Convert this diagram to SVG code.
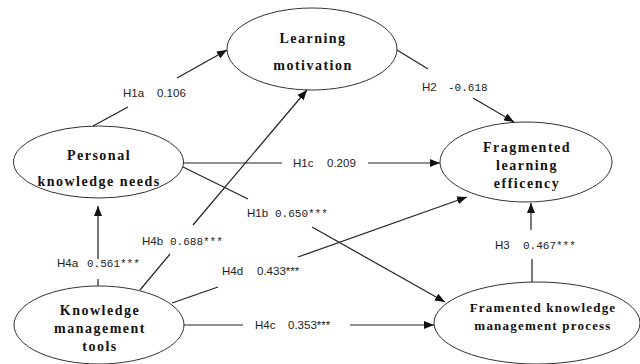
<svg xmlns="http://www.w3.org/2000/svg" width="640" height="364" viewBox="0 0 640 364">
<defs>
<marker id="ah" viewBox="0 0 10 8" refX="10" refY="4" markerWidth="10" markerHeight="8" markerUnits="userSpaceOnUse" orient="auto">
<path d="M0,0 L10,4 L0,8 z" fill="#111"/>
</marker>
</defs>
<style>
.node ellipse{fill:#fff;stroke:#333;stroke-width:1}
.node text{font-family:"Liberation Serif","Times New Roman",serif;font-weight:bold;font-size:14px;letter-spacing:1.5px;fill:#111;text-anchor:middle}
.edges line{stroke:#222;stroke-width:1.2}
.lbl{font-family:"Liberation Sans",Arial,sans-serif;font-size:11.5px;fill:#222}
.mono{font-family:"Liberation Mono","DejaVu Sans Mono",monospace;font-size:11px}
</style>
<rect width="640" height="364" fill="#fff"/>
<g id="n-learning-motivation" class="node">
<ellipse cx="312" cy="49" rx="85" ry="41"/>
<text x="313" y="43">Learning</text>
<text x="313" y="70">motivation</text>
</g>
<g id="n-personal-knowledge-needs" class="node">
<ellipse cx="98.5" cy="162" rx="85" ry="36"/>
<text x="99" y="160">Personal</text>
<text x="99" y="186">knowledge needs</text>
</g>
<g id="n-knowledge-management-tools" class="node">
<ellipse cx="99" cy="325" rx="85" ry="39"/>
<text x="100" y="315">Knowledge</text>
<text x="100" y="333">management</text>
<text x="100" y="351">tools</text>
</g>
<g id="n-fragmented-learning-efficency" class="node">
<ellipse cx="526" cy="162" rx="86" ry="40"/>
<text x="527" y="152">Fragmented</text>
<text x="527" y="170">learning</text>
<text x="527" y="188">efficency</text>
</g>
<g id="n-framented-kmp" class="node">
<ellipse cx="537" cy="323" rx="103" ry="41"/>
<text x="543" y="312" style="font-size:13px;letter-spacing:1.2px">Framented knowledge</text>
<text x="543" y="330" style="font-size:13px;letter-spacing:1.2px">management process</text>
</g>
<g id="edges" class="edges">
<line x1="93" y1="126" x2="128" y2="107"/>
<line x1="177" y1="78" x2="227" y2="50" marker-end="url(#ah)"/>
<line x1="397" y1="50" x2="428" y2="69"/>
<line x1="473" y1="98" x2="514" y2="122" marker-end="url(#ah)"/>
<line x1="183" y1="163" x2="282" y2="163"/>
<line x1="368" y1="163" x2="440" y2="163" marker-end="url(#ah)"/>
<line x1="183" y1="167" x2="248" y2="199"/>
<line x1="312" y1="227" x2="445" y2="302" marker-end="url(#ah)"/>
<line x1="140" y1="290" x2="170" y2="254"/>
<line x1="193" y1="225" x2="307" y2="90" marker-end="url(#ah)"/>
<line x1="98" y1="286" x2="98" y2="279" style="stroke:#555;stroke-width:1.6"/>
<line x1="98" y1="259" x2="98" y2="206" marker-end="url(#ah)" style="stroke:#555;stroke-width:1.6"/>
<line x1="172" y1="303" x2="218" y2="287"/>
<line x1="298" y1="257" x2="467" y2="197" marker-end="url(#ah)"/>
<line x1="184" y1="325" x2="243" y2="325"/>
<line x1="350" y1="325" x2="434" y2="325" marker-end="url(#ah)"/>
<line x1="532" y1="282" x2="532" y2="259"/>
<line x1="531" y1="230" x2="531" y2="203" marker-end="url(#ah)"/>
</g>
<g id="edge-labels">
<text class="lbl" x="123" y="97">H1a<tspan x="157">0.106</tspan></text>
<text class="lbl" x="422" y="91">H2<tspan class="mono" x="448">-0.618</tspan></text>
<text class="lbl" x="293" y="167">H1c<tspan x="327">0.209</tspan></text>
<text class="lbl" x="247" y="217">H1b<tspan class="mono" x="275">0.650***</tspan></text>
<text class="lbl" x="142" y="245">H4b<tspan class="mono" x="170">0.688***</tspan></text>
<text class="lbl" x="57" y="267">H4a<tspan class="mono" x="87">0.561***</tspan></text>
<text class="lbl" x="222" y="275">H4d<tspan x="257">0.433***</tspan></text>
<text class="lbl" x="255" y="329">H4c<tspan x="288">0.353***</tspan></text>
<text class="lbl" x="495" y="249">H3<tspan class="mono" x="523">0.467***</tspan></text>
</g>
</svg>
